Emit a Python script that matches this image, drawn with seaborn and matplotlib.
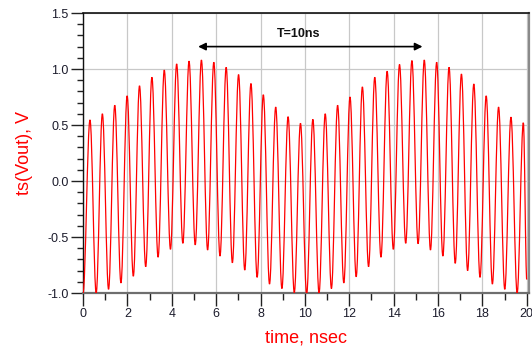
import numpy as np
import pandas as pd
import matplotlib
matplotlib.use("Agg")
import matplotlib.pyplot as plt
import seaborn as sns
from matplotlib.path import Path
from matplotlib.patches import PathPatch
from matplotlib.ticker import MultipleLocator, FormatStrFormatter

# waveform extremes (time in ns, value in V)
start_t, start_v = 0.0, -1.0
end_t, end_v = 20.0, -0.88

peak_t = [0.315, 0.873, 1.431, 1.989, 2.547, 3.105, 3.663, 4.221, 4.779, 5.337,
          5.895, 6.453, 7.011, 7.569, 8.127, 8.685, 9.243, 9.801, 10.359, 10.917,
          11.475, 12.033, 12.591, 13.149, 13.707, 14.265, 14.823, 15.381, 15.939,
          16.497, 17.055, 17.613, 18.171, 18.729, 19.287, 19.845]
peak_v = [0.545, 0.60, 0.676, 0.76, 0.85, 0.926, 0.99, 1.045, 1.07, 1.08,
          1.06, 1.015, 0.95, 0.87, 0.77, 0.66, 0.574, 0.515, 0.55, 0.60,
          0.676, 0.75, 0.84, 0.926, 0.98, 1.04, 1.075, 1.08, 1.06,
          1.015, 0.955, 0.866, 0.76, 0.66, 0.57, 0.52]

trough_t = [0.594, 1.152, 1.710, 2.268, 2.826, 3.384, 3.942, 4.500, 5.058, 5.616,
            6.174, 6.732, 7.290, 7.848, 8.406, 8.964, 9.522, 10.080, 10.638, 11.196,
            11.754, 12.312, 12.870, 13.428, 13.986, 14.544, 15.102, 15.660, 16.218,
            16.776, 17.334, 17.892, 18.450, 19.008, 19.566]
trough_v = [-1.0, -0.967, -0.91, -0.85, -0.765, -0.68, -0.61, -0.556, -0.57, -0.616,
            -0.67, -0.73, -0.795, -0.86, -0.92, -0.96, -0.997, -1.01, -1.0, -0.96,
            -0.91, -0.855, -0.765, -0.68, -0.61, -0.556, -0.56, -0.616, -0.67,
            -0.735, -0.80, -0.86, -0.92, -0.967, -1.0]

x_ticks = [0, 2, 4, 6, 8, 10, 12, 14, 16, 18, 20]
y_ticks = [-1.0, -0.5, 0.0, 0.5, 1.0, 1.5]

# build the time series: start, peak/trough pairs, end
t = [start_t]
v = [start_v]
for i in range(len(peak_t)):
    t.append(peak_t[i]); v.append(peak_v[i])
    if i < len(trough_t):
        t.append(trough_t[i]); v.append(trough_v[i])
t.append(end_t); v.append(end_v)
df = pd.DataFrame({"time": t, "vout": v})

sns.set_theme(style="white")
plt.rcParams['font.family'] = ['Liberation Sans', 'DejaVu Sans']
plt.rcParams['axes.unicode_minus'] = False

fig = plt.figure(figsize=(5.32, 3.56), dpi=100)
ax = fig.add_axes([83 / 532, 1 - 293 / 356, 446 / 532, 280 / 356])

sns.lineplot(data=df, x="time", y="vout", ax=ax, color="#ff0000",
             linewidth=0.9, sort=False, estimator=None, zorder=3)

# the simulator trace is sinusoidal, so redraw seaborn's polyline as a
# smooth curve through the same extremes (flat tangent at each extreme)
line = ax.lines[0]
xs, ys = line.get_xdata(), line.get_ydata()
verts = [(xs[0], ys[0])]
codes = [Path.MOVETO]
k = 0.3642
for i in range(len(xs) - 1):
    dt = xs[i + 1] - xs[i]
    verts += [(xs[i] + k * dt, ys[i]), (xs[i + 1] - k * dt, ys[i + 1]), (xs[i + 1], ys[i + 1])]
    codes += [Path.CURVE4] * 3
ax.add_patch(PathPatch(Path(verts, codes), facecolor="none", edgecolor="#ff0000",
                       linewidth=0.9, zorder=3))
line.remove()

ax.set_xlim(0, 20.1)
ax.set_ylim(-1.0, 1.5)
ax.set_xticks(x_ticks)
ax.set_yticks(y_ticks)
ax.xaxis.set_minor_locator(MultipleLocator(1))
ax.yaxis.set_minor_locator(MultipleLocator(0.1))
ax.yaxis.set_major_formatter(FormatStrFormatter("%.1f"))
ax.grid(True, which="major", color="#c8c8c8", linewidth=0.9, zorder=0)

ax.tick_params(axis="y", which="major", direction="out", length=8.5, width=1,
               color="#222222", labelsize=9, labelcolor="#1c1c2c", pad=2, left=True)
ax.tick_params(axis="y", which="minor", direction="out", length=4.5, width=1,
               color="#222222", left=True)
ax.tick_params(axis="x", which="major", direction="out", length=9.5, width=1,
               color="#222222", labelsize=9, labelcolor="#1c1c2c", pad=1, bottom=True)
ax.tick_params(axis="x", which="minor", direction="out", length=5, width=1,
               color="#222222", bottom=True)

ax.spines["top"].set_color("#111111")
ax.spines["top"].set_linewidth(1.2)
ax.spines["left"].set_color("#111111")
ax.spines["left"].set_linewidth(1.0)
ax.spines["bottom"].set_color("#6e6e6e")
ax.spines["bottom"].set_linewidth(1.6)
ax.spines["right"].set_color("#8a8a8a")
ax.spines["right"].set_linewidth(1.6)

ax.set_xlabel("time, nsec", color="#ff0000", fontsize=13, labelpad=7)
ax.set_ylabel("ts(Vout), V", color="#ff0000", fontsize=13, labelpad=10)

# period annotation
ax.annotate("", xy=(5.19, 1.20), xytext=(15.3, 1.20),
            arrowprops=dict(arrowstyle="<|-|>", color="black", lw=1.2,
                            mutation_scale=11, shrinkA=0, shrinkB=0), zorder=4)
ax.text(9.73, 1.31, "T=10ns", fontsize=9, fontweight="bold", ha="center",
        va="center", color="#111111", zorder=4)

fig.savefig("out.png", dpi=100)
